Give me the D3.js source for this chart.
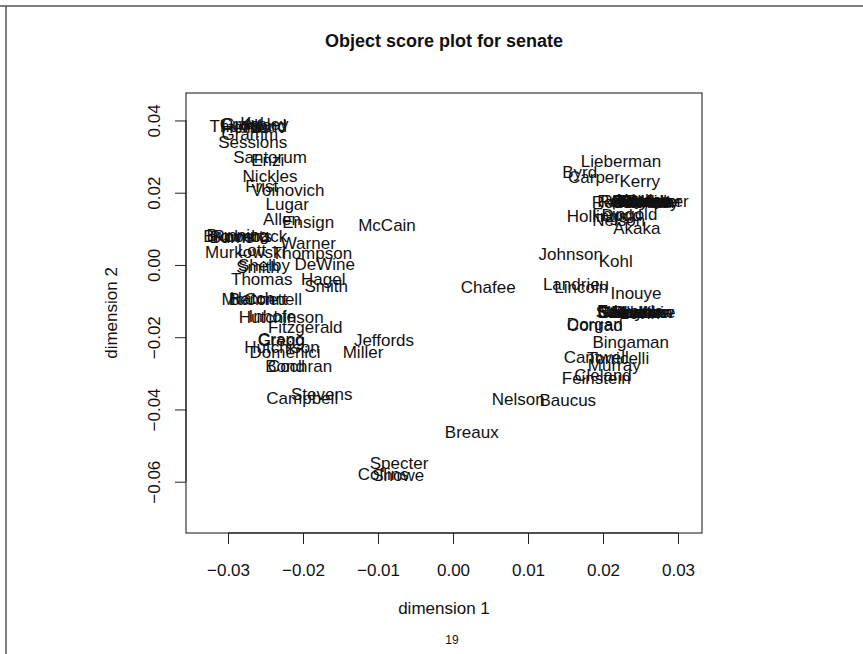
<!DOCTYPE html>
<html>
<head>
<meta charset="utf-8">
<script src="https://cdn.jsdelivr.net/npm/d3@7"></script>
<style>
  html, body { margin: 0; padding: 0; background: #ffffff; }
  svg { display: block; }
  text { font-family: "Liberation Sans", Arial, Helvetica, sans-serif; fill: #111; }
</style>
</head>
<body>
<script>
// Senators and their object scores on the first two dimensions
const senators = [
  "Thurmond","Craig","Kyl","Allard","Helms","Grassley","Gramm","Sessions",
  "Santorum","Enzi","Nickles","Frist","Voinovich","Lugar","Allen","Ensign",
  "Brownback","Roberts","Bunning","Burns","Warner","Murkowski","Lott","Thompson",
  "Shelby","Smith","DeWine","Thomas","Hagel","Smith","McConnell","Bennett","Hatch",
  "Hutchinson","Inhofe","Fitzgerald","Crapo","Gregg","Hutchison","Domenici",
  "Cochran","Bond","Stevens","Campbell","Jeffords","Miller","McCain","Chafee",
  "Breaux","Specter","Collins","Snowe","Nelson","Baucus",
  "Lieberman","Byrd","Carper","Kerry",
  "Reid","Reed","Rockefeller","Schumer","Leahy","Kennedy","Harkin","Boxer","Wyden",
  "Corzine","Clinton","Dayton","Biden","Daschle","Graham",
  "Hollings","Feingold","Nelson","Dodd","Akaka","Johnson","Kohl","Landrieu","Lincoln",
  "Inouye","Sarbanes","Stabenow","Mikulski","Wellstone","Levin","Durbin","Edwards",
  "Carnahan","Bayh","Conrad","Dorgan","Bingaman","Torricelli","Cantwell","Murray",
  "Feinstein","Cleland"
];
const dim1 = [
  -0.0273,-0.0284,-0.0268,-0.0251,-0.0277,-0.0264,-0.0271,-0.0267,
  -0.0244,-0.0247,-0.0244,-0.0255,-0.0220,-0.0221,-0.0228,-0.0193,
  -0.0277,-0.0281,-0.0287,-0.0295,-0.0193,-0.0277,-0.0268,-0.0188,
  -0.0252,-0.0260,-0.0171,-0.0255,-0.0173,-0.0169,-0.0255,-0.0260,-0.0268,
  -0.0229,-0.0241,-0.0197,-0.0229,-0.0229,-0.0228,-0.0224,
  -0.0204,-0.0224,-0.0175,-0.0201,-0.0092,-0.0120,-0.0088,0.0047,
  0.0025,-0.0072,-0.0093,-0.0073,0.0087,0.0153,
  0.0224,0.0169,0.0188,0.0249,
  0.0220,0.0212,0.0249,0.0269,0.0249,0.0256,0.0247,0.0263,0.0256,
  0.0259,0.0260,0.0256,0.0260,0.0253,0.0251,
  0.0192,0.0229,0.0221,0.0225,0.0245,0.0157,0.0217,0.0164,0.0171,
  0.0244,0.0239,0.0244,0.0241,0.0247,0.0249,0.0244,0.0236,
  0.0243,0.0240,0.0189,0.0189,0.0237,0.0220,0.0191,0.0215,
  0.0191,0.0200
];
const dim2 = [
  0.0385,0.0391,0.0393,0.0388,0.0382,0.0391,0.0363,0.0341,
  0.0299,0.0291,0.0247,0.0219,0.0208,0.0169,0.0127,0.0119,
  0.0080,0.0080,0.0083,0.0078,0.0061,0.0036,0.0042,0.0033,
  0.0000,-0.0006,0.0003,-0.0039,-0.0039,-0.0058,-0.0094,-0.0094,-0.0091,
  -0.0144,-0.0141,-0.0172,-0.0205,-0.0208,-0.0227,-0.0241,
  -0.0280,-0.0280,-0.0357,-0.0368,-0.0208,-0.0241,0.0111,-0.0061,
  -0.0463,-0.0549,-0.0579,-0.0582,-0.0371,-0.0374,
  0.0288,0.0258,0.0244,0.0233,
  0.0177,0.0175,0.0177,0.0177,0.0180,0.0175,0.0178,0.0176,0.0179,
  0.0177,0.0174,0.0178,0.0176,0.0177,0.0175,
  0.0136,0.0141,0.0125,0.0139,0.0103,0.0031,0.0011,-0.0053,-0.0061,
  -0.0078,-0.0130,-0.0131,-0.0129,-0.0130,-0.0132,-0.0130,-0.0128,
  -0.0131,-0.0130,-0.0166,-0.0163,-0.0213,-0.0258,-0.0255,-0.0277,
  -0.0313,-0.0305
];

// Axis limits and tick values
const xLimits = [-0.0356, 0.0332];
const yLimits = [-0.0742, 0.0476];
const xTicks = [-0.03, -0.02, -0.01, 0.00, 0.01, 0.02, 0.03];
const yTicks = [-0.06, -0.04, -0.02, 0.00, 0.02, 0.04];

const W = 863, H = 654;
const plot = { left: 186, right: 702, top: 93, bottom: 533 };

const svg = d3.select("body").append("svg")
  .attr("width", W).attr("height", H);

svg.append("rect").attr("width", W).attr("height", H).attr("fill", "#ffffff");

// page frame lines
svg.append("line").attr("x1", 0).attr("x2", W).attr("y1", 6).attr("y2", 6)
  .attr("stroke", "#555").attr("stroke-width", 1.5);
svg.append("line").attr("x1", 6).attr("x2", 6).attr("y1", 6).attr("y2", H)
  .attr("stroke", "#555").attr("stroke-width", 1.5);

const x = d3.scaleLinear().domain(xLimits).range([plot.left, plot.right]);
const y = d3.scaleLinear().domain(yLimits).range([plot.bottom, plot.top]);

const fmt = v => d3.format(".2f")(v).replace("-", "\u2212");

// bottom axis
const xAxis = svg.append("g")
  .attr("transform", `translate(0,${plot.bottom})`)
  .call(d3.axisBottom(x).tickValues(xTicks).tickFormat(fmt).tickSize(11).tickPadding(20).tickSizeOuter(0));
xAxis.select(".domain").attr("d", `M${x(xTicks[0])},0H${x(xTicks[xTicks.length - 1])}`);
xAxis.selectAll("text").attr("font-size", 17).attr("font-family", "Liberation Sans, Arial, sans-serif").attr("fill", "#111");

// left axis (labels rotated, as in R's default)
const yAxis = svg.append("g")
  .attr("transform", `translate(${plot.left},0)`)
  .call(d3.axisLeft(y).tickValues(yTicks).tickFormat(fmt).tickSize(11).tickSizeOuter(0));
yAxis.select(".domain").attr("d", `M0,${y(yTicks[0])}V${y(yTicks[yTicks.length - 1])}`);
yAxis.selectAll(".tick text")
  .attr("x", null).attr("dy", null)
  .attr("transform", "translate(-32,0) rotate(-90)")
  .attr("text-anchor", "middle")
  .attr("dy", "0.35em")
  .attr("font-size", 17).attr("font-family", "Liberation Sans, Arial, sans-serif").attr("fill", "#111");
svg.selectAll(".tick line, .domain").attr("stroke", "#222");

// plot box
svg.append("rect")
  .attr("x", plot.left).attr("y", plot.top)
  .attr("width", plot.right - plot.left).attr("height", plot.bottom - plot.top)
  .attr("fill", "none").attr("stroke", "#111").attr("stroke-width", 1);

// senator names placed at their scores
svg.append("g").selectAll("text")
  .data(senators.map((n, i) => ({ name: n, d1: dim1[i], d2: dim2[i] })))
  .join("text")
  .attr("x", d => x(d.d1))
  .attr("y", d => y(d.d2))
  .attr("dy", "0.35em")
  .attr("text-anchor", "middle")
  .attr("font-size", 17)
  .text(d => d.name);

// titles
const cx = (plot.left + plot.right) / 2;
svg.append("text").attr("x", cx).attr("y", 47)
  .attr("text-anchor", "middle").attr("font-size", 18).attr("font-weight", "bold")
  .text("Object score plot for senate");
svg.append("text").attr("x", cx).attr("y", 614)
  .attr("text-anchor", "middle").attr("font-size", 17)
  .text("dimension 1");
svg.append("text")
  .attr("transform", `translate(111,${(plot.top + plot.bottom) / 2}) rotate(-90)`)
  .attr("text-anchor", "middle").attr("dy", "0.35em").attr("font-size", 17)
  .text("dimension 2");
svg.append("text").attr("x", 452).attr("y", 644)
  .attr("text-anchor", "middle").attr("font-size", 12)
  .text("19");
</script>
</body>
</html>
